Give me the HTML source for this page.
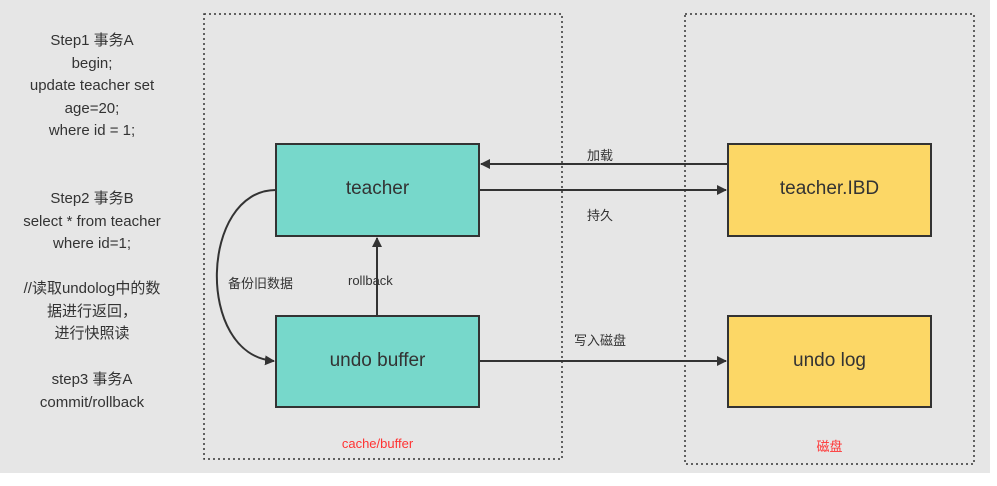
<!DOCTYPE html>
<html><head><meta charset="utf-8"><style>
body{margin:0;width:997px;height:486px;background:#fff;overflow:hidden;font-family:"Liberation Sans","Noto Sans CJK SC",sans-serif}
#bg{position:absolute;left:0;top:0;width:990px;height:473px;background:#e6e6e6}
.t{position:absolute;white-space:nowrap;color:#333}
.l{width:184px;left:0;text-align:center;font-size:15px;line-height:22.5px;color:#333}
</style></head><body>
<div id="bg"></div>
<svg width="997" height="486" style="position:absolute;left:0;top:0">
<defs><marker id="a" markerWidth="10" markerHeight="10" refX="9" refY="5" orient="auto" markerUnits="userSpaceOnUse"><path d="M0,0 L10,5 L0,10 Z" fill="#333"/></marker></defs>
<rect x="204" y="14" width="358" height="445" fill="none" stroke="#333" stroke-width="1.5" stroke-dasharray="2,3"/>
<rect x="685" y="14" width="289" height="450" fill="none" stroke="#333" stroke-width="1.5" stroke-dasharray="2,3"/>
<rect x="276" y="144" width="203" height="92" fill="#77d8cb" stroke="#333" stroke-width="2"/>
<rect x="276" y="316" width="203" height="91" fill="#77d8cb" stroke="#333" stroke-width="2"/>
<rect x="728" y="144" width="203" height="92" fill="#fcd766" stroke="#333" stroke-width="2"/>
<rect x="728" y="316" width="203" height="91" fill="#fcd766" stroke="#333" stroke-width="2"/>
<g stroke="#333" stroke-width="2" fill="none">
<line x1="728" y1="164" x2="481" y2="164" marker-end="url(#a)"/>
<line x1="479" y1="190" x2="726" y2="190" marker-end="url(#a)"/>
<line x1="479" y1="361" x2="726" y2="361" marker-end="url(#a)"/>
<line x1="377" y1="316" x2="377" y2="238" marker-end="url(#a)"/>
<path d="M276,190 C200,190 195,355 274,361" marker-end="url(#a)"/>
</g>
</svg>
<div class="t" style="left:276px;top:178px;width:203px;text-align:center;font-size:19px">teacher</div>
<div class="t" style="left:276px;top:350px;width:203px;text-align:center;font-size:19px">undo buffer</div>
<div class="t" style="left:728px;top:178px;width:203px;text-align:center;font-size:19px">teacher.IBD</div>
<div class="t" style="left:728px;top:350px;width:203px;text-align:center;font-size:19px">undo log</div>
<div class="t" style="left:587px;top:145px;font-size:13px">加载</div>
<div class="t" style="left:587px;top:205px;font-size:13px">持久</div>
<div class="t" style="left:574px;top:330px;font-size:13px">写入磁盘</div>
<div class="t" style="left:228px;top:273px;font-size:13px">备份旧数据</div>
<div class="t" style="left:348px;top:273px;font-size:13px">rollback</div>
<div class="t" style="left:276px;top:436px;width:203px;text-align:center;font-size:13px;color:#f33">cache/buffer</div>
<div class="t" style="left:728px;top:436px;width:203px;text-align:center;font-size:13px;color:#f33">磁盘</div>
<div class="t l" style="top:30px">Step1 事务A<br>begin;<br>update teacher set<br>age=20;<br>where id = 1;</div>
<div class="t l" style="top:188px">Step2 事务B<br>select * from teacher<br>where id=1;</div>
<div class="t l" style="top:278px">//读取undolog中的数<br>据进行返回，<br>进行快照读</div>
<div class="t l" style="top:369px">step3 事务A<br>commit/rollback</div>
</body></html>
